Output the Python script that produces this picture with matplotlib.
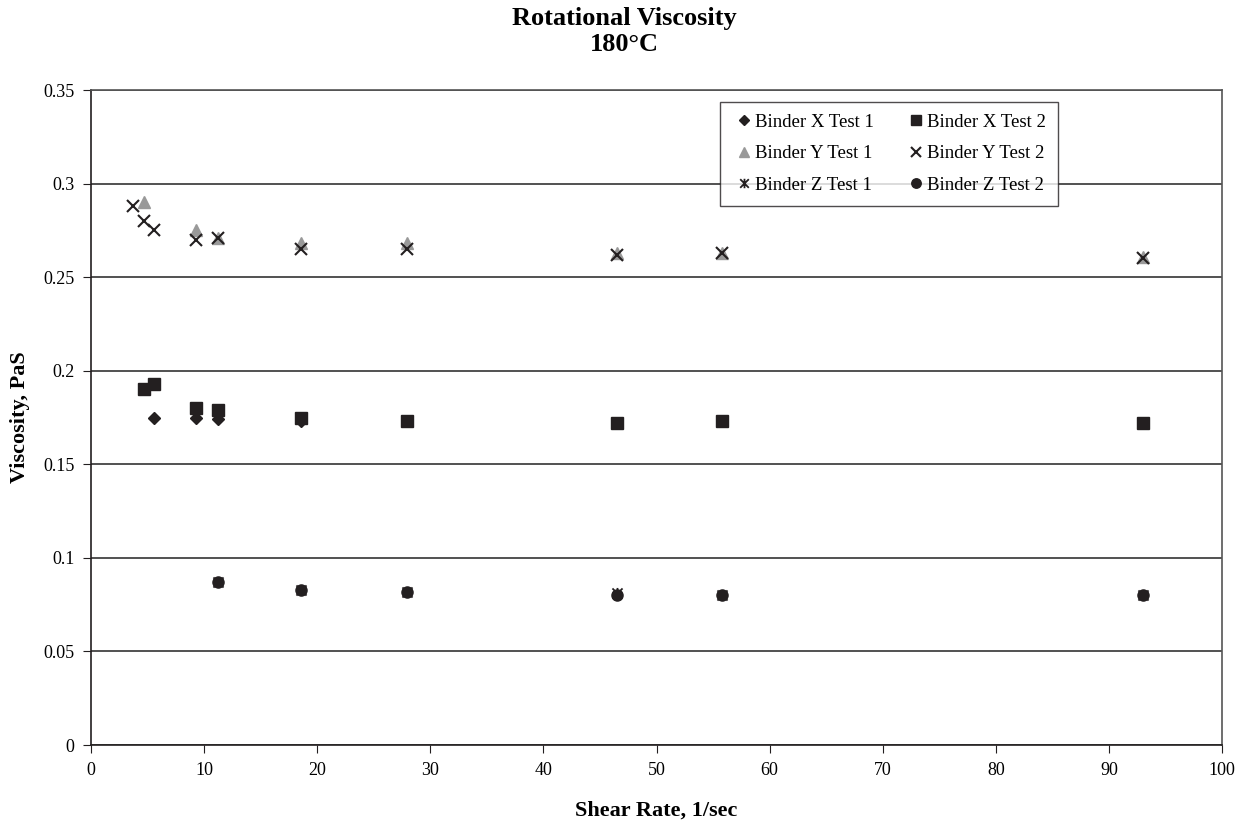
import matplotlib
matplotlib.use("Agg")
import matplotlib.pyplot as plt
from matplotlib.path import Path

plt.rcParams['font.family'] = ['Liberation Serif', 'DejaVu Serif']

# Shear rate (1/sec) and viscosity (PaS) for each binder/test
x_test1_rate = [5.6, 9.3, 11.2, 18.6, 27.9, 46.5, 55.8, 93.0]
x_test1_visc = [0.175, 0.175, 0.174, 0.173, 0.173, 0.172, 0.173, 0.172]

x_test2_rate = [4.65, 5.6, 9.3, 11.2, 18.6, 27.9, 46.5, 55.8, 93.0]
x_test2_visc = [0.190, 0.193, 0.180, 0.179, 0.175, 0.173, 0.172, 0.173, 0.172]

y_test1_rate = [4.65, 9.3, 11.2, 18.6, 27.9, 46.5, 55.8, 93.0]
y_test1_visc = [0.290, 0.275, 0.271, 0.268, 0.268, 0.263, 0.263, 0.261]

y_test2_rate = [3.7, 4.65, 5.6, 9.3, 11.2, 18.6, 27.9, 46.5, 55.8, 93.0]
y_test2_visc = [0.288, 0.280, 0.275, 0.270, 0.271, 0.265, 0.265, 0.262, 0.263, 0.260]

z_test1_rate = [11.2, 18.6, 27.9, 46.5, 55.8, 93.0]
z_test1_visc = [0.087, 0.083, 0.082, 0.081, 0.080, 0.080]

z_test2_rate = [11.2, 18.6, 27.9, 46.5, 55.8, 93.0]
z_test2_visc = [0.087, 0.083, 0.082, 0.080, 0.080, 0.080]

x_ticks = list(range(0, 101, 10))
y_ticks = [0, 0.05, 0.1, 0.15, 0.2, 0.25, 0.3, 0.35]
y_tick_labels = ['0', '0.05', '0.1', '0.15', '0.2', '0.25', '0.3', '0.35']

# Star marker: an x crossed by a vertical stroke
star = Path([(-1, -1), (1, 1), (-1, 1), (1, -1), (0, -1.1), (0, 1.1)],
            [Path.MOVETO, Path.LINETO, Path.MOVETO, Path.LINETO,
             Path.MOVETO, Path.LINETO])

ink = '#231f20'
fig = plt.figure(figsize=(12.48, 8.26), dpi=100)
ax = fig.add_axes([0.0729, 0.098, 0.9063, 0.793])

h_x1, = ax.plot(x_test1_rate, x_test1_visc, ls='none', marker='D', ms=6, color=ink,
                label='Binder X Test 1')
h_x2, = ax.plot(x_test2_rate, x_test2_visc, ls='none', marker='s', ms=8, color=ink,
                label='Binder X Test 2')
h_y1, = ax.plot(y_test1_rate, y_test1_visc, ls='none', marker='^', ms=8, color='#999999',
                label='Binder Y Test 1')
h_y2, = ax.plot(y_test2_rate, y_test2_visc, ls='none', marker='x', ms=8, mew=1.5, color=ink,
                label='Binder Y Test 2')
h_z1, = ax.plot(z_test1_rate, z_test1_visc, ls='none', marker=star, ms=8, mew=1.3, color=ink,
                label='Binder Z Test 1')
h_z2, = ax.plot(z_test2_rate, z_test2_visc, ls='none', marker='o', ms=8, color=ink,
                label='Binder Z Test 2')

ax.set_xlim(0, 100)
ax.set_ylim(0, 0.35)
ax.set_xticks(x_ticks)
ax.set_yticks(y_ticks)
ax.set_yticklabels(y_tick_labels)
ax.tick_params(labelsize=13, direction='out', length=6, color=ink, pad=6)
ax.yaxis.grid(True, color='#333333', lw=1.2)
ax.set_axisbelow(True)
for side in ('left', 'bottom', 'right', 'top'):
    ax.spines[side].set_color('#555555')
    ax.spines[side].set_linewidth(1.2)
ax.spines['left'].set_color(ink)
ax.spines['bottom'].set_color(ink)

ax.set_xlabel('Shear Rate, 1/sec', fontsize=16, fontweight='bold', labelpad=16)
ax.set_ylabel('Viscosity, PaS', fontsize=16, fontweight='bold', labelpad=9)
fig.suptitle('Rotational Viscosity\n180°C', fontsize=19, fontweight='bold',
             y=0.991, linespacing=1.15)

# Row-major legend: fill column by column in this order
handles = [h_x1, h_y1, h_z1, h_x2, h_y2, h_z2]
leg = ax.legend(handles=handles, labels=[h.get_label() for h in handles],
                ncol=2, loc='upper left', bbox_to_anchor=(0.5565, 0.9817),
                borderaxespad=0.0,
                fontsize=13.5, frameon=True, fancybox=False, edgecolor=ink,
                handlelength=1.25, handletextpad=0.0, columnspacing=1.58,
                labelspacing=0.77, borderpad=0.62, markerscale=0.85)
leg.get_frame().set_linewidth(1.0)

fig.savefig('out.png', dpi=100, facecolor='white')
